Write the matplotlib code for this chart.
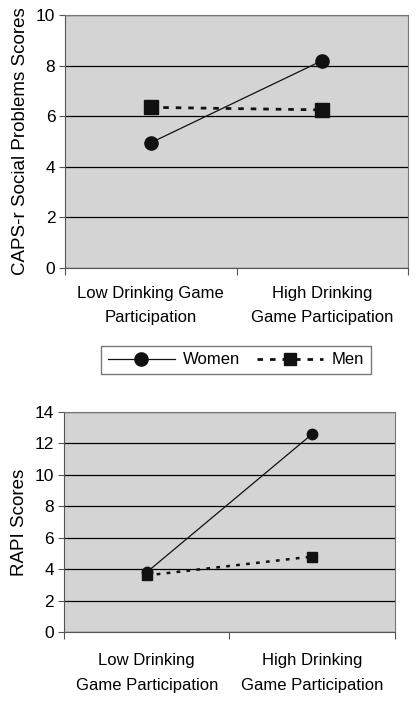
import matplotlib
matplotlib.use("Agg")
import matplotlib.pyplot as plt
from matplotlib.lines import Line2D

plt.rcParams['font.family'] = ['Liberation Sans', 'DejaVu Sans']

top_categories = ["Low Drinking Game\nParticipation", "High Drinking\nGame Participation"]
bottom_categories = ["Low Drinking\nGame Participation", "High Drinking\nGame Participation"]
series_names = ["Women", "Men"]
caps_women = [4.95, 8.2]
caps_men = [6.35, 6.25]
rapi_women = [3.8, 12.6]
rapi_men = [3.6, 4.8]
caps_yticks = [0, 2, 4, 6, 8, 10]
rapi_yticks = [0, 2, 4, 6, 8, 10, 12, 14]

fig = plt.figure(figsize=(4.18, 7.04), dpi=100)
FS = 12
bg = '#d4d4d4'

def style(ax, cats, yticks, ylabel, pad, ls):
    ax.set_facecolor(bg)
    ax.set_xlim(0, 2)
    ax.set_ylim(yticks[0], yticks[-1])
    ax.set_yticks(yticks)
    ax.set_yticklabels([str(t) for t in yticks], fontsize=12.5)
    ax.yaxis.grid(True, color='black', linewidth=0.9)
    ax.set_axisbelow(True)
    ax.set_xticks([0, 1, 2])
    ax.set_xticklabels(['', '', ''])
    ax.set_xticks([0.5, 1.5], minor=True)
    ax.set_xticklabels(cats, minor=True, fontsize=FS, linespacing=ls)
    ax.tick_params(axis='x', which='minor', length=0, pad=pad)
    ax.tick_params(axis='x', which='major', length=5, color='#555555')
    ax.tick_params(axis='y', length=4, color='#555555', pad=3)
    for s in ['left', 'bottom']:
        ax.spines[s].set_color('#555555')
    for s in ['top', 'right']:
        ax.spines[s].set_color('#777777')
        ax.spines[s].set_linewidth(0.8)
    ax.set_ylabel(ylabel, fontsize=13.5, labelpad=5)

xs = [0.5, 1.5]

ax1 = fig.add_axes([0.1555, 0.6193, 0.8206, 0.3594])
style(ax1, top_categories, caps_yticks, "CAPS-r Social Problems Scores", 13, 1.75)
ax1.plot(xs, caps_women, color='#111111', linewidth=0.9, marker='o', markersize=9.5, clip_on=False, zorder=3)
ax1.plot(xs, caps_men, color='#111111', linewidth=2.0, linestyle=(0, (2.0, 2.5)), marker='s', markersize=9.5, clip_on=False, zorder=3)

ax2 = fig.add_axes([0.153, 0.1023, 0.792, 0.3125])
style(ax2, bottom_categories, rapi_yticks, "RAPI Scores", 15, 1.85)
ax2.plot(xs, rapi_women, color='#111111', linewidth=0.9, marker='o', markersize=7.5, clip_on=False, zorder=3)
ax2.plot(xs, rapi_men, color='#111111', linewidth=1.8, linestyle=(0, (1.5, 2.5)), marker='s', markersize=7.5, clip_on=False, zorder=3)

handles = [
    Line2D([0], [0], color='#111111', linewidth=0.9, marker='o', markersize=9.5),
    Line2D([0], [0], color='#111111', linewidth=2.0, linestyle=(0, (2.0, 2.5)), marker='s', markersize=9),
]
leg = fig.legend(handles, series_names, loc='center', bbox_to_anchor=(236 / 418, 1 - 360 / 704),
                 ncol=2, fontsize=FS, frameon=True, fancybox=False, handlelength=4.0,
                 columnspacing=1.0, handletextpad=0.5, borderpad=0.4, edgecolor='#555555')
leg.get_frame().set_linewidth(1.0)

fig.savefig("out.png", dpi=100, facecolor='white')
